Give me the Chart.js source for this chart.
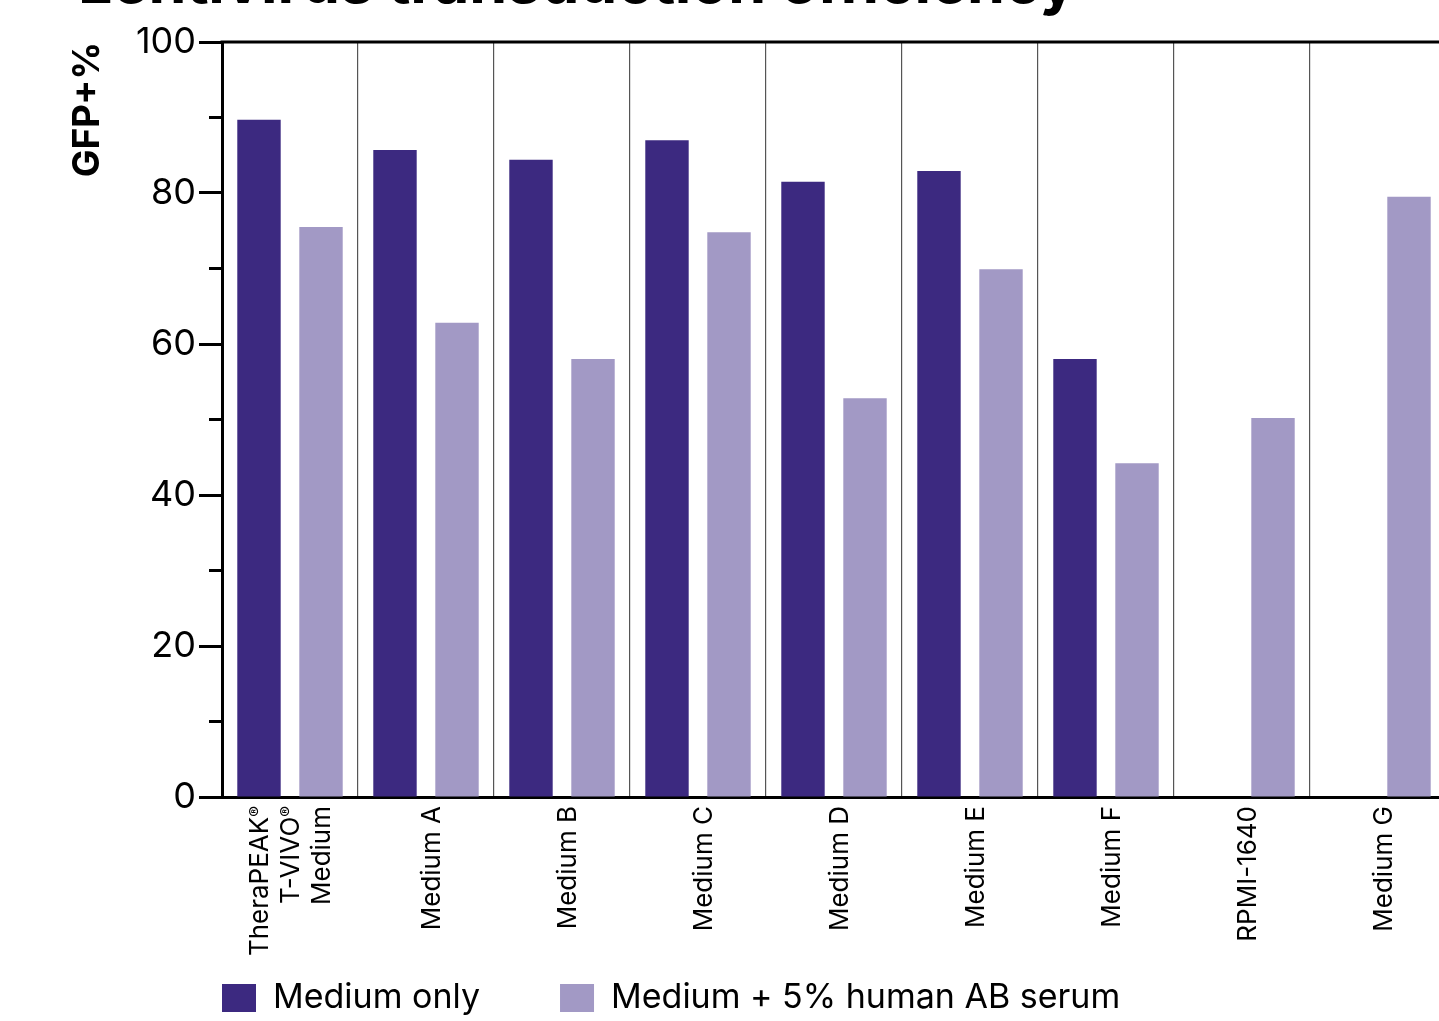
<!DOCTYPE html>
<html>
<head>
<meta charset="utf-8">
<script src="https://cdn.jsdelivr.net/npm/chart.js@4"></script>
<style>
  html, body { margin: 0; padding: 0; background: #fff; overflow: hidden; }
  #wrap { position: relative; width: 1439px; height: 1021px; overflow: hidden; }
  #heading {
    position: absolute; left: 78px; top: -49px;
    font: 700 61px Inter, sans-serif; line-height: 1; color: #000;
    white-space: nowrap; margin: 0; letter-spacing: -0.2px;
  }
  canvas { position: absolute; left: 0; top: 0; }
</style>
</head>
<body>
<div id="wrap">
  <h1 id="heading">Lentivirus transduction efficiency</h1>
  <canvas id="chart" width="1460" height="1021"></canvas>
</div>
<script>
// Media tested
const categories = [
  ['TheraPEAK®', 'T-VIVO®', 'Medium'],
  'Medium A', 'Medium B', 'Medium C', 'Medium D',
  'Medium E', 'Medium F', 'RPMI-1640', 'Medium G'
];
// GFP+ cells (%) per condition
const mediumOnly = [89.7, 85.7, 84.4, 87.0, 81.5, 82.9, 58.0, null, null];
const mediumSerum = [75.5, 62.8, 58.0, 74.8, 52.8, 69.9, 44.2, 50.2, 79.5];
const seriesNames = ['Medium only', 'Medium + 5% human AB serum'];
const seriesColors = ['#3c2980', '#a299c5'];
// y axis
const yMajorStep = 20;
const yMinorTicks = [10, 30, 50, 70, 90];
const yTitle = 'GFP+%';

const FONT = 'Inter, "Open Sans", sans-serif';
const LABEL_SIZE = 26;
const LINE_GAP = 31;
const LEGEND_GAP = 80;

function drawRotatedLine(ctx, text) {
  // text is drawn reading bottom-to-top, right-aligned at the origin
  let end = 0;
  let body = text;
  if (text.endsWith('®')) {
    body = text.slice(0, -1);
    ctx.font = `400 16px ${FONT}`;
    ctx.fillText('®', 0, -4);
    end = -ctx.measureText('®').width;
  }
  ctx.font = `400 ${LABEL_SIZE}px ${FONT}`;
  ctx.fillText(body, end, 0);
}

const axisDecor = {
  id: 'axisDecor',
  afterLayout(chart) {
    // legend row starts under the plot's left edge
    const lg = chart.legend;
    const dx = chart.chartArea.left - LEGEND_GAP - lg.left;
    lg.left += dx; lg.right += dx;
    lg.top += 4; lg.bottom += 4;
  },
  afterDraw(chart) {
    const {ctx, chartArea: area, scales: {x, y}} = chart;
    ctx.save();
    ctx.strokeStyle = '#000';
    ctx.lineWidth = 3;
    // top frame line
    ctx.beginPath();
    ctx.moveTo(area.left - 1.5, area.top);
    ctx.lineTo(chart.width, area.top);
    ctx.stroke();
    // minor ticks
    ctx.beginPath();
    yMinorTicks.forEach(v => {
      const py = y.getPixelForValue(v);
      ctx.moveTo(area.left - 13, py);
      ctx.lineTo(area.left, py);
    });
    ctx.stroke();
    // category labels
    ctx.fillStyle = '#000';
    ctx.textAlign = 'right';
    ctx.textBaseline = 'middle';
    categories.forEach((cat, i) => {
      const lines = Array.isArray(cat) ? cat : [cat];
      const cx = x.getPixelForValue(i) + (lines.length > 1 ? 1 : 6);
      lines.forEach((line, j) => {
        ctx.save();
        ctx.translate(cx + (j - (lines.length - 1) / 2) * LINE_GAP, area.bottom + 9);
        ctx.rotate(-Math.PI / 2);
        drawRotatedLine(ctx, line);
        ctx.restore();
      });
    });
    ctx.restore();
  }
};

new Chart(document.getElementById('chart'), {
  type: 'bar',
  data: {
    labels: categories,
    datasets: [
      { label: seriesNames[0], data: mediumOnly, backgroundColor: seriesColors[0], borderWidth: 0 },
      { label: seriesNames[1], data: mediumSerum, backgroundColor: seriesColors[1], borderWidth: 0 }
    ]
  },
  options: {
    responsive: false,
    devicePixelRatio: 1,
    animation: false,
    datasets: { bar: { categoryPercentage: 0.912, barPercentage: 0.70 } },
    layout: { padding: { top: 42, right: 14, bottom: 0, left: 0 } },
    scales: {
      x: {
        type: 'category',
        offset: true,
        grid: { color: '#555', lineWidth: 1.2, drawTicks: false, offset: true },
        border: { display: true, color: '#000', width: 3 },
        ticks: { display: false },
        afterFit(scale) { scale.height = 100; }
      },
      y: {
        min: 0, max: 100,
        ticks: { stepSize: yMajorStep, color: '#000', padding: 3, font: { family: FONT, size: 36, weight: '400' } },
        grid: { drawOnChartArea: false, drawTicks: true, tickLength: 23, tickWidth: 3, tickColor: '#000' },
        border: { display: true, color: '#000', width: 3 },
        title: {
          display: true, text: yTitle, align: 'end', color: '#000',
          font: { family: FONT, size: 37, weight: '700', lineHeight: 1.2 },
          padding: { top: 66, bottom: 0 }
        },
        afterFit(scale) { scale.width = 222; }
      }
    },
    plugins: {
      title: { display: false },
      tooltip: { enabled: false },
      legend: {
        display: true,
        position: 'bottom',
        align: 'start',
        fullSize: true,
        labels: {
          color: '#000',
          boxWidth: 34, boxHeight: 28,
          padding: LEGEND_GAP,
          font: { family: FONT, size: 34, weight: '400' }
        }
      }
    }
  },
  plugins: [axisDecor]
});
</script>
</body>
</html>
